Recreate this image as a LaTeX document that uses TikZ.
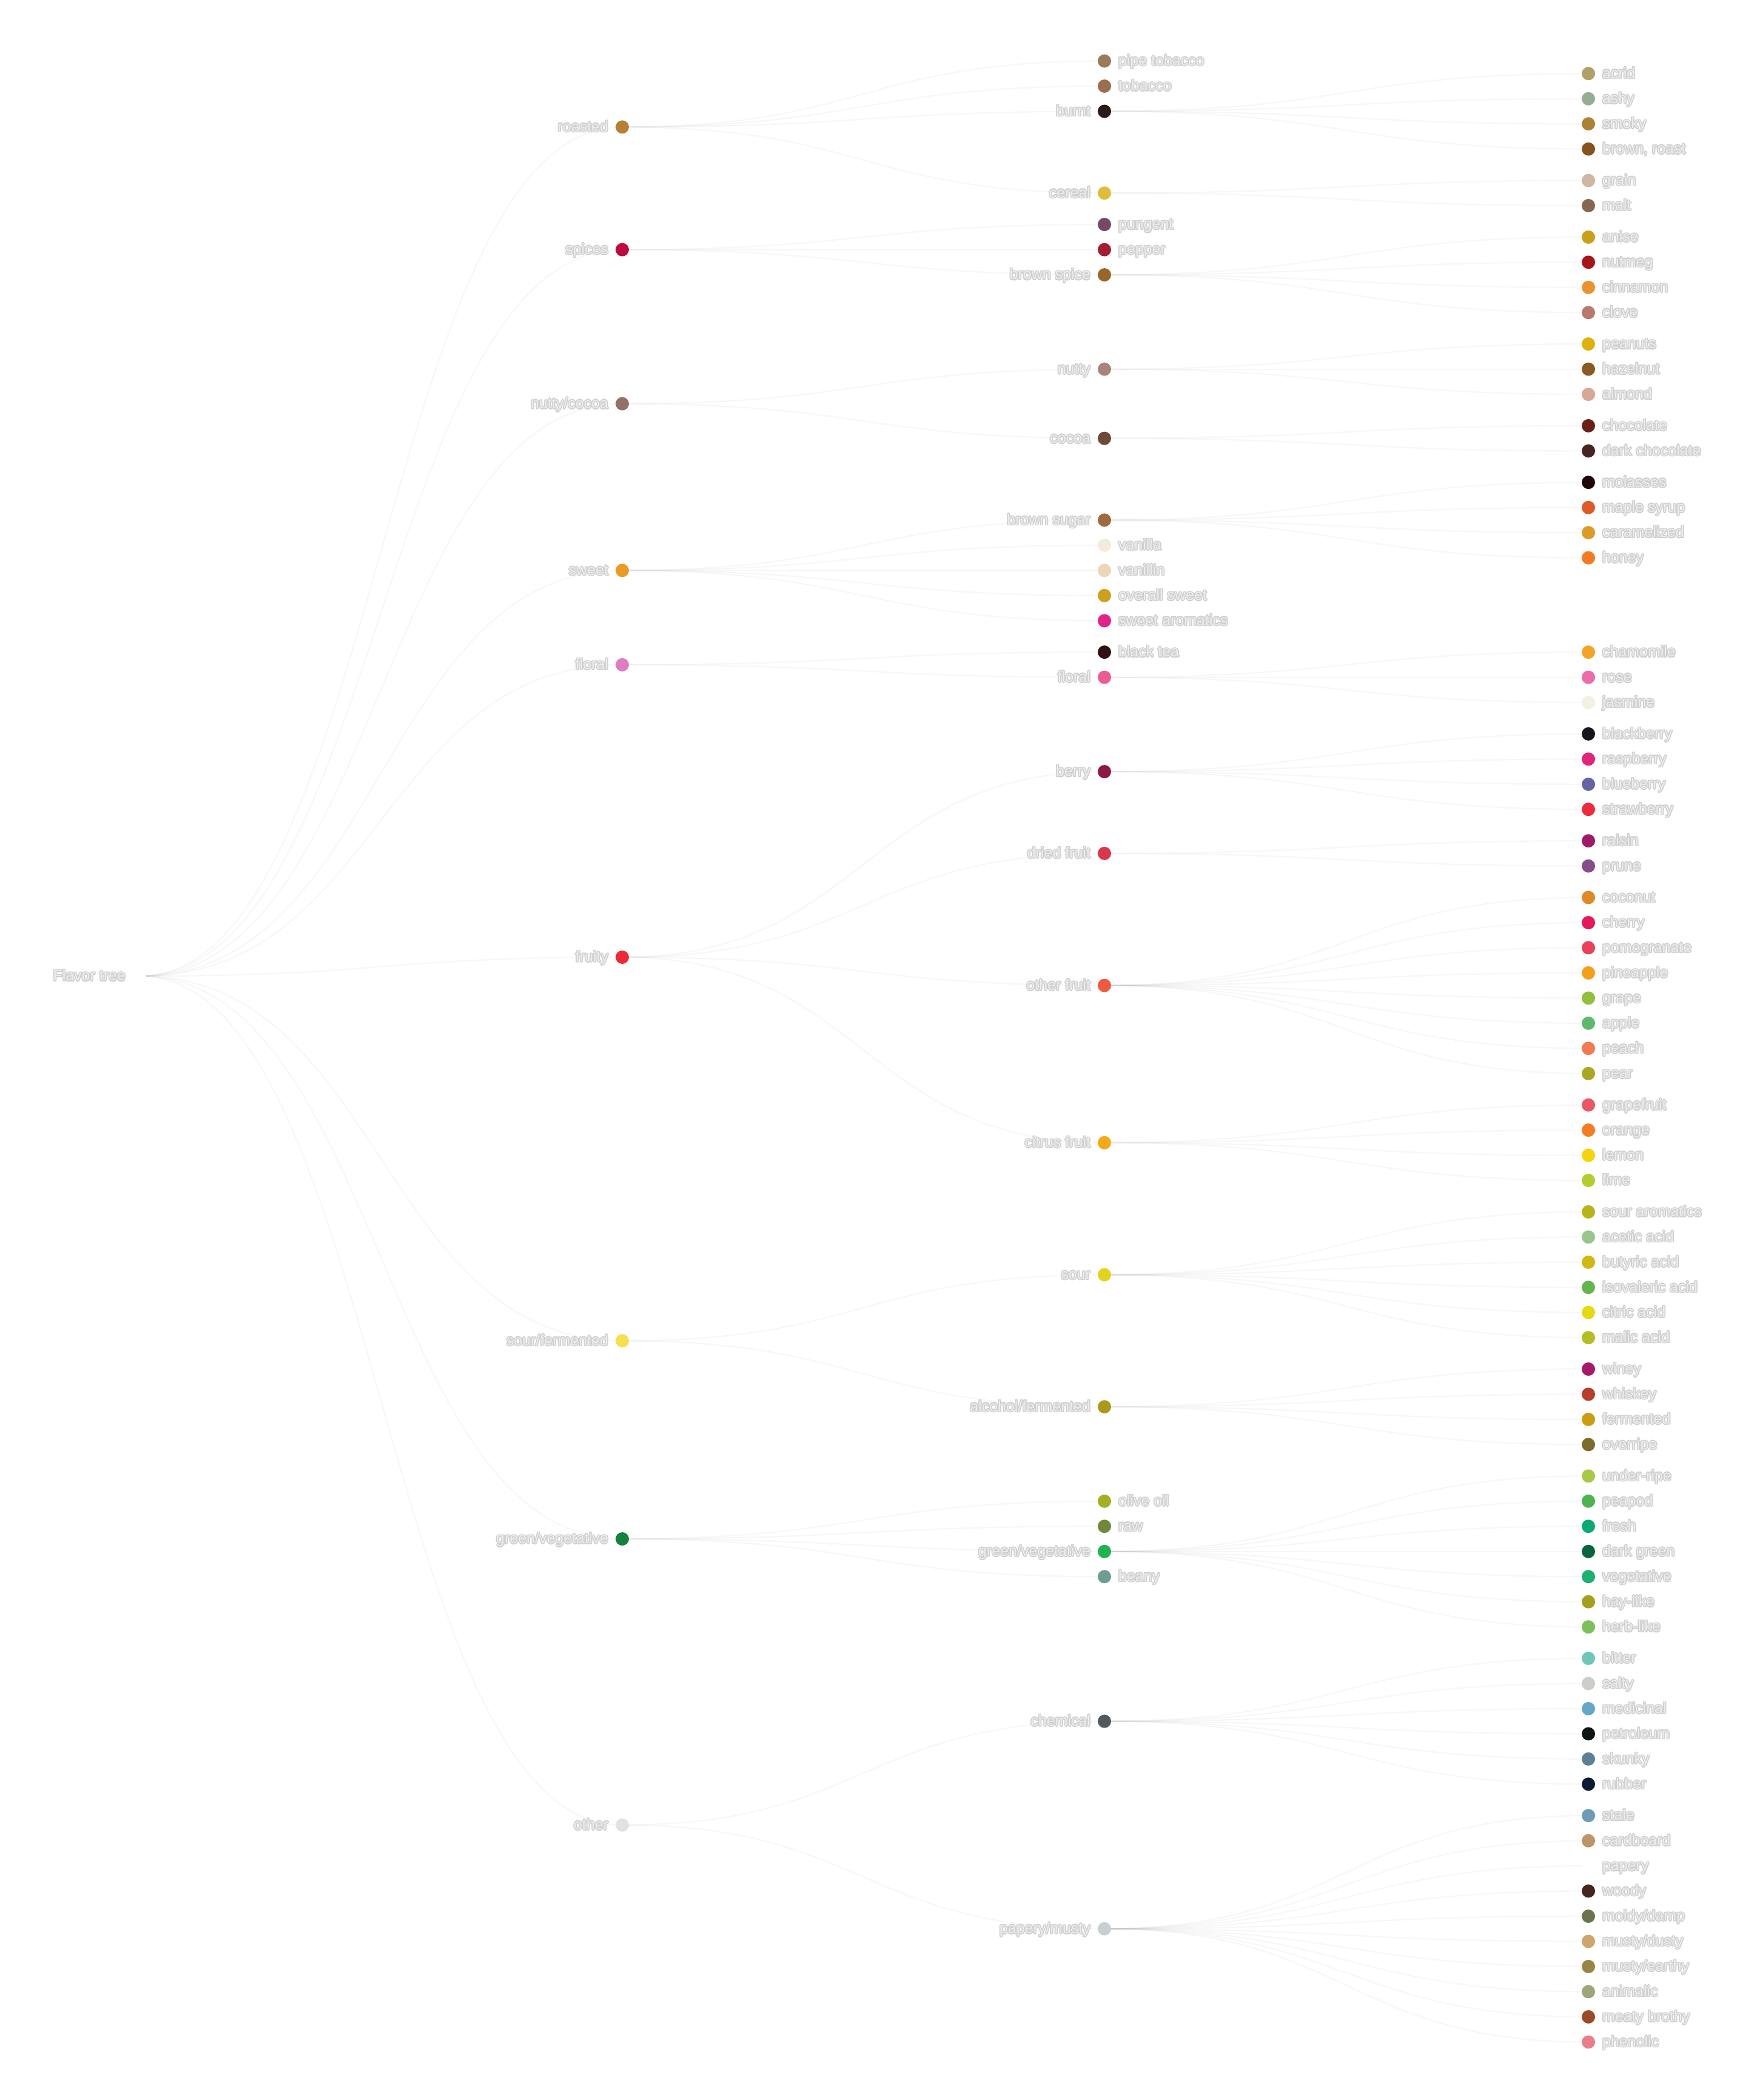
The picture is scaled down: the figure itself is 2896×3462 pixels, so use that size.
\documentclass[tikz,border=0pt]{standalone}
\usepackage{fontspec}
\setmainfont{Liberation Sans}
\usetikzlibrary{backgrounds}
\definecolor{haloc}{HTML}{CFCFCF}
\definecolor{textc}{HTML}{EDEDED}
\newlength\halodist \setlength\halodist{0.8pt}
\newcommand\hl[1]{%
\rlap{\color{haloc}\kern-\halodist#1}%
\rlap{\color{haloc}\kern\halodist#1}%
\rlap{\color{haloc}\raisebox{\halodist}{#1}}%
\rlap{\color{haloc}\raisebox{-\halodist}{#1}}%
\rlap{\color{haloc}\kern.7\halodist\raisebox{.7\halodist}{#1}}%
\rlap{\color{haloc}\kern-.7\halodist\raisebox{.7\halodist}{#1}}%
\rlap{\color{haloc}\kern.7\halodist\raisebox{-.7\halodist}{#1}}%
\rlap{\color{haloc}\kern-.7\halodist\raisebox{-.7\halodist}{#1}}%
{\color{textc}#1}}
\tikzset{
  dot/.style={circle,draw=none,minimum size=11pt,inner sep=0pt},
  txt/.style={inner sep=0pt,outer sep=0pt,font=\fontsize{12.5pt}{14pt}\selectfont},
  lnk/.style={draw=gray,draw opacity=0.06,line width=1.1pt}
}
\newcommand\PN[5]{\definecolor{c#1}{HTML}{#4}%
  \node[dot,fill=c#1] (#1) at (#2,#3) {};%
  \node[txt,anchor=base east] (#1t) at ([xshift=-11.5pt,yshift=-3.9pt]#1.center) {\hl{#5}};}
\newcommand\LN[5]{\definecolor{c#1}{HTML}{#4}%
  \node[dot,fill=c#1] (#1) at (#2,#3) {};%
  \node[txt,anchor=base west] (#1t) at ([xshift=11.5pt,yshift=-3.9pt]#1.center) {\hl{#5}};}
\begin{document}
\begin{tikzpicture}[x=0.5pt,y=-0.5pt]
\useasboundingbox (0,0) rectangle (2896,3462);
% root
\PN{root}{230}{1609.1}{FFFFFF}{Flavor tree}
% level 1
\PN{roasted}{1026}{209.4}{B87F37}{roasted}
\PN{spices}{1026}{411.6}{BE0A3F}{spices}
\PN{nutcoc}{1026}{665.6}{957068}{nutty/cocoa}
\PN{sweet}{1026}{940.4}{E99B25}{sweet}
\PN{floralA}{1026}{1095.9}{E07DC2}{floral}
\PN{fruity}{1026}{1578.0}{EC2A35}{fruity}
\PN{sourf}{1026}{2210.4}{F7DE4C}{sour/fermented}
\PN{greenA}{1026}{2537.0}{14813D}{green/vegetative}
\PN{other}{1026}{3008.7}{E0E3E4}{other}
% level 2
\LN{pipetob}{1821}{100.6}{9A7A58}{pipe tobacco}
\LN{tobacco}{1821}{142.0}{9A6E4E}{tobacco}
\PN{burnt}{1821}{183.5}{2A1A18}{burnt}
\PN{cereal}{1821}{318.3}{DFBD3C}{cereal}
\LN{pungent}{1821}{370.1}{744866}{pungent}
\LN{pepper}{1821}{411.6}{A31D34}{pepper}
\PN{brspice}{1821}{453.1}{9B6428}{brown spice}
\PN{nutty}{1821}{608.6}{A8857A}{nutty}
\PN{cocoa}{1821}{722.6}{6E4838}{cocoa}
\PN{brsugar}{1821}{857.4}{A0693F}{brown sugar}
\LN{vanilla}{1821}{898.9}{F2ECDA}{vanilla}
\LN{vanillin}{1821}{940.4}{EDD6B8}{vanillin}
\LN{ovsweet}{1821}{981.8}{D19F1F}{overall sweet}
\LN{swarom}{1821}{1023.3}{E02489}{sweet aromatics}
\LN{blacktea}{1821}{1075.1}{2F1216}{black tea}
\PN{floralB}{1821}{1116.6}{EC5C93}{floral}
\PN{berry}{1821}{1272.1}{8E1746}{berry}
\PN{dried}{1821}{1406.9}{D8384A}{dried fruit}
\PN{othfruit}{1821}{1624.6}{EE5A40}{other fruit}
\PN{citrus}{1821}{1883.8}{F5A918}{citrus fruit}
\PN{sour}{1821}{2101.5}{E3D31E}{sour}
\PN{alcohol}{1821}{2319.2}{A99A1B}{alcohol/fermented}
\LN{olive}{1821}{2474.8}{A4AF26}{olive oil}
\LN{raw}{1821}{2516.2}{6F883A}{raw}
\PN{greenB}{1821}{2557.7}{1FB253}{green/vegetative}
\LN{beany}{1821}{2599.2}{6E9E91}{beany}
\PN{chemical}{1821}{2837.6}{525A60}{chemical}
\PN{pmusty}{1821}{3179.7}{C9CED0}{papery/musty}
% level 3
\LN{acrid}{2619}{121.3}{B0A16A}{acrid}
\LN{ashy}{2619}{162.8}{94AE94}{ashy}
\LN{smoky}{2619}{204.2}{AD8234}{smoky}
\LN{brroast}{2619}{245.7}{86531E}{brown, roast}
\LN{grain}{2619}{297.6}{CCB8A5}{grain}
\LN{malt}{2619}{339.0}{876750}{malt}
\LN{anise}{2619}{390.9}{C9A01A}{anise}
\LN{nutmeg}{2619}{432.3}{A8141A}{nutmeg}
\LN{cinnamon}{2619}{473.8}{EA9232}{cinnamon}
\LN{clove}{2619}{515.3}{B87A6E}{clove}
\LN{peanuts}{2619}{567.1}{DDB10F}{peanuts}
\LN{hazelnut}{2619}{608.6}{8A5A22}{hazelnut}
\LN{almond}{2619}{650.1}{D8A796}{almond}
\LN{chocolate}{2619}{701.9}{6A2017}{chocolate}
\LN{darkchoc}{2619}{743.4}{472422}{dark chocolate}
\LN{molasses}{2619}{795.2}{1E0708}{molasses}
\LN{maple}{2619}{836.7}{DD5A26}{maple syrup}
\LN{caramel}{2619}{878.1}{DC9B27}{caramelized}
\LN{honey}{2619}{919.6}{F47B22}{honey}
\LN{chamomile}{2619}{1075.1}{F4A325}{chamomile}
\LN{rose}{2619}{1116.6}{EB6CA9}{rose}
\LN{jasmine}{2619}{1158.1}{F3F2E1}{jasmine}
\LN{blackberry}{2619}{1209.9}{16161E}{blackberry}
\LN{raspberry}{2619}{1251.4}{E2247A}{raspberry}
\LN{blueberry}{2619}{1292.9}{6664A5}{blueberry}
\LN{strawberry}{2619}{1334.3}{EC2C3E}{strawberry}
\LN{raisin}{2619}{1386.2}{9E1B6A}{raisin}
\LN{prune}{2619}{1427.6}{854E8A}{prune}
\LN{coconut}{2619}{1479.5}{E08726}{coconut}
\LN{cherry}{2619}{1521.0}{E5195A}{cherry}
\LN{pomegranate}{2619}{1562.4}{EA4059}{pomegranate}
\LN{pineapple}{2619}{1603.9}{F49F1B}{pineapple}
\LN{grape}{2619}{1645.4}{93BE3E}{grape}
\LN{apple}{2619}{1686.8}{5EB96E}{apple}
\LN{peach}{2619}{1728.3}{F17954}{peach}
\LN{pear}{2619}{1769.8}{A9A822}{pear}
\LN{grapefruit}{2619}{1821.6}{EA5765}{grapefruit}
\LN{orange}{2619}{1863.1}{F47D24}{orange}
\LN{lemon}{2619}{1904.6}{F6D30C}{lemon}
\LN{lime}{2619}{1946.0}{B4CC2E}{lime}
\LN{souraro}{2619}{1997.9}{B7B31A}{sour aromatics}
\LN{acetic}{2619}{2039.3}{99C48C}{acetic acid}
\LN{butyric}{2619}{2080.8}{D2B70F}{butyric acid}
\LN{isoval}{2619}{2122.3}{65B54F}{isovaleric acid}
\LN{citric}{2619}{2163.7}{E3DA14}{citric acid}
\LN{malic}{2619}{2205.2}{B3BE25}{malic acid}
\LN{winey}{2619}{2257.0}{A51A69}{winey}
\LN{whiskey}{2619}{2298.5}{B63E2C}{whiskey}
\LN{fermented}{2619}{2340.0}{CD9C15}{fermented}
\LN{overripe}{2619}{2381.4}{7A6C2A}{overripe}
\LN{underripe}{2619}{2433.3}{A9C848}{under-ripe}
\LN{peapod}{2619}{2474.7}{4EB351}{peapod}
\LN{fresh}{2619}{2516.2}{0AAA73}{fresh}
\LN{darkgreen}{2619}{2557.7}{07653F}{dark green}
\LN{vegetative}{2619}{2599.2}{1EB070}{vegetative}
\LN{haylike}{2619}{2640.6}{A4A01E}{hay-like}
\LN{herblike}{2619}{2682.1}{7BC05B}{herb-like}
\LN{bitter}{2619}{2733.9}{6EC7B9}{bitter}
\LN{salty}{2619}{2775.4}{CCCDC8}{salty}
\LN{medicinal}{2619}{2816.9}{63A6C8}{medicinal}
\LN{petroleum}{2619}{2858.3}{0E1414}{petroleum}
\LN{skunky}{2619}{2899.8}{5E8095}{skunky}
\LN{rubber}{2619}{2941.3}{0C1A33}{rubber}
\LN{stale}{2619}{2993.1}{6D9DB5}{stale}
\LN{cardboard}{2619}{3034.6}{BE9568}{cardboard}
\LN{paperyL}{2619}{3076.1}{FFFFFF}{papery}
\LN{woody}{2619}{3117.5}{43261D}{woody}
\LN{moldy}{2619}{3159.0}{6B744D}{moldy/damp}
\LN{mdusty}{2619}{3200.5}{CCA66A}{musty/dusty}
\LN{mearthy}{2619}{3241.9}{998545}{musty/earthy}
\LN{animalic}{2619}{3283.4}{A0A67C}{animalic}
\LN{meaty}{2619}{3324.9}{9B4A28}{meaty brothy}
\LN{phenolic}{2619}{3366.4}{E97E8A}{phenolic}
\begin{scope}[on background layer]
\fill[white] (0,0) rectangle (2896,3462);
\foreach \a/\b in {root/roasted,root/spices,root/nutcoc,root/sweet,root/floralA,root/fruity,root/sourf,root/greenA,root/other,
 roasted/pipetob,roasted/tobacco,roasted/burnt,roasted/cereal,
 burnt/acrid,burnt/ashy,burnt/smoky,burnt/brroast,cereal/grain,cereal/malt,
 spices/pungent,spices/pepper,spices/brspice,
 brspice/anise,brspice/nutmeg,brspice/cinnamon,brspice/clove,
 nutcoc/nutty,nutcoc/cocoa,nutty/peanuts,nutty/hazelnut,nutty/almond,cocoa/chocolate,cocoa/darkchoc,
 sweet/brsugar,sweet/vanilla,sweet/vanillin,sweet/ovsweet,sweet/swarom,
 brsugar/molasses,brsugar/maple,brsugar/caramel,brsugar/honey,
 floralA/blacktea,floralA/floralB,floralB/chamomile,floralB/rose,floralB/jasmine,
 fruity/berry,fruity/dried,fruity/othfruit,fruity/citrus,
 berry/blackberry,berry/raspberry,berry/blueberry,berry/strawberry,dried/raisin,dried/prune,
 othfruit/coconut,othfruit/cherry,othfruit/pomegranate,othfruit/pineapple,othfruit/grape,othfruit/apple,othfruit/peach,othfruit/pear,
 citrus/grapefruit,citrus/orange,citrus/lemon,citrus/lime,
 sourf/sour,sourf/alcohol,
 sour/souraro,sour/acetic,sour/butyric,sour/isoval,sour/citric,sour/malic,
 alcohol/winey,alcohol/whiskey,alcohol/fermented,alcohol/overripe,
 greenA/olive,greenA/raw,greenA/greenB,greenA/beany,
 greenB/underripe,greenB/peapod,greenB/fresh,greenB/darkgreen,greenB/vegetative,greenB/haylike,greenB/herblike,
 other/chemical,other/pmusty,
 chemical/bitter,chemical/salty,chemical/medicinal,chemical/petroleum,chemical/skunky,chemical/rubber,
 pmusty/stale,pmusty/cardboard,pmusty/paperyL,pmusty/woody,pmusty/moldy,pmusty/mdusty,pmusty/mearthy,pmusty/animalic,pmusty/meaty,pmusty/phenolic}
 {\draw[lnk] (\a.center) .. controls +(398,0) and +(-398,0) .. (\b.center);}
\end{scope}
\end{tikzpicture}
\end{document}
